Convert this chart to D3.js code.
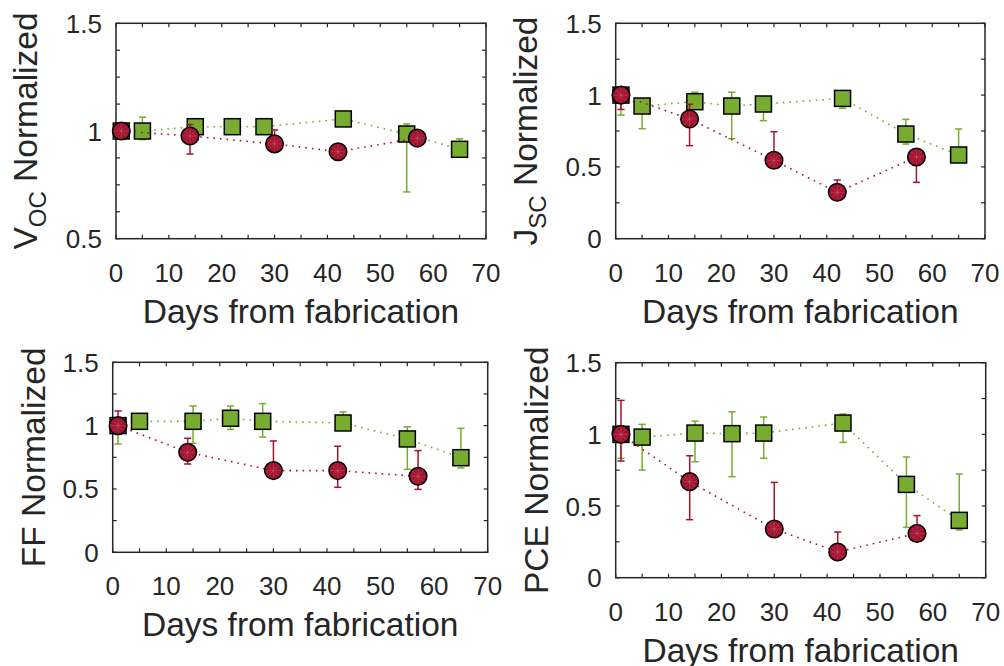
<!DOCTYPE html>
<html><head><meta charset="utf-8">
<script src="https://cdn.jsdelivr.net/npm/d3@7"></script>
<style>body{margin:0;background:#fff}svg{display:block}</style>
</head><body><svg id="c" width="1004" height="666"></svg>
<script>
// ---- data ----
const daysGreen = [1, 5, 15, 22, 28, 43, 55, 65];
const daysRed = [1, 14, 30, 42, 57];

const vocGreen   = [1.0, 1.0, 1.02, 1.02, 1.02, 1.056, 0.986, 0.915];
const vocGreenHi = [1.02, 1.064, 1.04, 1.05, 1.04, 1.07, 1.033, 0.964];
const vocGreenLo = [0.98, 0.96, 1.0, 0.99, 0.99, 1.04, 0.717, 0.9];
const vocRed     = [1.0, 0.977, 0.94, 0.904, 0.967];
const vocRedHi   = [1.02, 1.03, 1.005, 0.92, 0.98];
const vocRedLo   = [0.98, 0.893, 0.92, 0.89, 0.95];

const jscGreen   = [1.0, 0.924, 0.954, 0.924, 0.938, 0.977, 0.729, 0.583];
const jscGreenHi = [1.02, 0.95, 1.02, 1.02, 0.96, 1.0, 0.831, 0.764];
const jscGreenLo = [0.861, 0.766, 0.93, 0.697, 0.822, 0.908, 0.659, 0.56];
const jscRed     = [1.0, 0.834, 0.546, 0.323, 0.569];
const jscRedHi   = [1.02, 0.936, 0.745, 0.409, 0.59];
const jscRedLo   = [0.90, 0.648, 0.52, 0.30, 0.392];

const ffGreen    = [1.0, 1.034, 1.034, 1.058, 1.034, 1.021, 0.895, 0.747];
const ffGreenHi  = [1.02, 1.05, 1.155, 1.155, 1.174, 1.108, 0.99, 0.979];
const ffGreenLo  = [0.855, 1.01, 0.86, 0.971, 0.91, 1.0, 0.655, 0.666];
const ffRed      = [1.0, 0.789, 0.645, 0.645, 0.6];
const ffRedHi    = [1.116, 0.9, 0.879, 0.837, 0.803];
const ffRedLo    = [0.98, 0.697, 0.62, 0.513, 0.497];

const pceGreen   = [1.0, 0.981, 1.009, 1.005, 1.009, 1.079, 0.651, 0.4];
const pceGreenHi = [1.02, 1.07, 1.093, 1.158, 1.121, 1.142, 0.842, 0.723];
const pceGreenLo = [0.833, 0.751, 0.809, 0.705, 0.833, 0.944, 0.351, 0.333];
const pceRed     = [1.0, 0.67, 0.34, 0.179, 0.309];
const pceRedHi   = [1.237, 0.851, 0.665, 0.319, 0.433];
const pceRedLo   = [0.814, 0.405, 0.32, 0.16, 0.29];

const xTicks = [0, 5, 10, 15, 20, 25, 30, 35, 40, 45, 50, 55, 60, 65, 70];
const xTickLabels = [0, 10, 20, 30, 40, 50, 60, 70];
const yTicksVoc = [0.5, 0.625, 0.75, 0.875, 1.0, 1.125, 1.25, 1.375, 1.5];
const yLabelsVoc = [0.5, 1, 1.5];
const yTicksStd = [0, 0.25, 0.5, 0.75, 1.0, 1.25, 1.5];
const yLabelsStd = [0, 0.5, 1, 1.5];
const xLabel = "Days from fabrication";

// ---- style ----
const GREEN = "#77AC30", RED = "#A2142F", AX = "#262626";
const FONT = "'Liberation Sans', Arial, Helvetica, sans-serif";

const panels = [
  {main: "V", sub: "OC", rest: " Normalized", yDom: [0.5, 1.5], yTicks: yTicksVoc, yLabels: yLabelsVoc,
   g: [vocGreen, vocGreenLo, vocGreenHi], r: [vocRed, vocRedLo, vocRedHi],
   box: {l: 116, r: 486, t: 23.3, b: 238.7}, ylx: 37},
  {main: "J", sub: "SC", rest: " Normalized", yDom: [0, 1.5], yTicks: yTicksStd, yLabels: yLabelsStd,
   g: [jscGreen, jscGreenLo, jscGreenHi], r: [jscRed, jscRedLo, jscRedHi],
   box: {l: 615.7, r: 985, t: 23.3, b: 238.7}, ylx: 537},
  {main: "FF Normalized", sub: null, rest: "", yDom: [0, 1.5], yTicks: yTicksStd, yLabels: yLabelsStd,
   g: [ffGreen, ffGreenLo, ffGreenHi], r: [ffRed, ffRedLo, ffRedHi],
   box: {l: 112.7, r: 487.7, t: 362.3, b: 552.3}, ylx: 45},
  {main: "PCE Normalized", sub: null, rest: "", yDom: [0, 1.5], yTicks: yTicksStd, yLabels: yLabelsStd,
   g: [pceGreen, pceGreenLo, pceGreenHi], r: [pceRed, pceRedLo, pceRedHi],
   box: {l: 615.7, r: 985.7, t: 362.7, b: 577.7}, ylx: 548}
];

const svg = d3.select("#c");
svg.append("rect").attr("width", 1004).attr("height", 666).attr("fill", "#fff");

panels.forEach(p => {
  const B = p.box;
  const x = d3.scaleLinear().domain([0, 70]).range([B.l, B.r]);
  const y = d3.scaleLinear().domain(p.yDom).range([B.b, B.t]);
  const g = svg.append("g");
  const TL = 4;

  // ticks (inward, all sides)
  xTicks.forEach(t => {
    g.append("line").attr("x1", x(t)).attr("x2", x(t)).attr("y1", B.b).attr("y2", B.b - TL).attr("stroke", AX).attr("stroke-width", 1.2);
    g.append("line").attr("x1", x(t)).attr("x2", x(t)).attr("y1", B.t).attr("y2", B.t + TL).attr("stroke", AX).attr("stroke-width", 1.2);
  });
  p.yTicks.forEach(t => {
    g.append("line").attr("y1", y(t)).attr("y2", y(t)).attr("x1", B.l).attr("x2", B.l + TL).attr("stroke", AX).attr("stroke-width", 1.2);
    g.append("line").attr("y1", y(t)).attr("y2", y(t)).attr("x1", B.r).attr("x2", B.r - TL).attr("stroke", AX).attr("stroke-width", 1.2);
  });
  g.append("rect").attr("x", B.l).attr("y", B.t).attr("width", B.r - B.l).attr("height", B.b - B.t)
    .attr("fill", "none").attr("stroke", AX).attr("stroke-width", 1.5);

  // tick labels
  xTickLabels.forEach(t => {
    g.append("text").attr("x", x(t)).attr("y", B.b + 43).attr("text-anchor", "middle")
      .attr("font-family", FONT).attr("font-size", 26).attr("fill", AX).text(t);
  });
  p.yLabels.forEach(t => {
    g.append("text").attr("x", B.l - 14).attr("y", y(t) + 9.5).attr("text-anchor", "end")
      .attr("font-family", FONT).attr("font-size", 26).attr("fill", AX).text(t);
  });

  // axis labels
  g.append("text").attr("x", (B.l + B.r) / 2).attr("y", B.b + 84).attr("text-anchor", "middle")
    .attr("font-family", FONT).attr("font-size", 33.5).attr("fill", AX).text(xLabel);
  const yl = g.append("text").attr("transform", `translate(${p.ylx},${(B.t + B.b) / 2}) rotate(-90)`)
    .attr("text-anchor", "middle").attr("font-family", FONT).attr("font-size", 33.5).attr("fill", AX);
  yl.append("tspan").text(p.main);
  if (p.sub) {
    yl.append("tspan").attr("font-size", 24).attr("dy", 9).text(p.sub);
    yl.append("tspan").attr("dy", -9).text(p.rest);
  }

  // series
  const drawSeries = (days, arr, color, shape) => {
    const [v, lo, hi] = arr;
    const pts = days.map((d, i) => ({d, v: v[i], lo: lo[i], hi: hi[i]}));
    g.append("path").datum(pts).attr("d", d3.line().x(q => x(q.d)).y(q => y(q.v)))
      .attr("fill", "none").attr("stroke", color).attr("stroke-width", 1.6)
      .attr("stroke-dasharray", "1.6,5").attr("stroke-linecap", "butt");
    pts.forEach(q => {
      const cx = x(q.d);
      g.append("line").attr("x1", cx).attr("x2", cx).attr("y1", y(q.lo)).attr("y2", y(q.hi)).attr("stroke", color).attr("stroke-width", 1.5);
      [q.lo, q.hi].forEach(e => g.append("line").attr("x1", cx - 3.6).attr("x2", cx + 3.6).attr("y1", y(e)).attr("y2", y(e)).attr("stroke", color).attr("stroke-width", 1.5));
    });
    pts.forEach(q => {
      const cx = x(q.d), cy = y(q.v);
      if (shape === "square") {
        g.append("rect").attr("x", cx - 8).attr("y", cy - 8).attr("width", 16).attr("height", 16)
          .attr("fill", color).attr("stroke", "#000").attr("stroke-width", 1.5);
      } else {
        g.append("circle").attr("cx", cx).attr("cy", cy).attr("r", 8.8)
          .attr("fill", color).attr("stroke", "#000").attr("stroke-width", 1.5);
        [0, 45, 90, 135].forEach(a => {
          const rad = a * Math.PI / 180, L = 7;
          g.append("line").attr("x1", cx - L * Math.cos(rad)).attr("x2", cx + L * Math.cos(rad))
            .attr("y1", cy - L * Math.sin(rad)).attr("y2", cy + L * Math.sin(rad))
            .attr("stroke", "#e08a9a").attr("stroke-opacity", 0.45).attr("stroke-width", 0.6);
        });
      }
    });
  };
  drawSeries(daysGreen, p.g, GREEN, "square");
  drawSeries(daysRed, p.r, RED, "circle");
});
</script></body></html>
